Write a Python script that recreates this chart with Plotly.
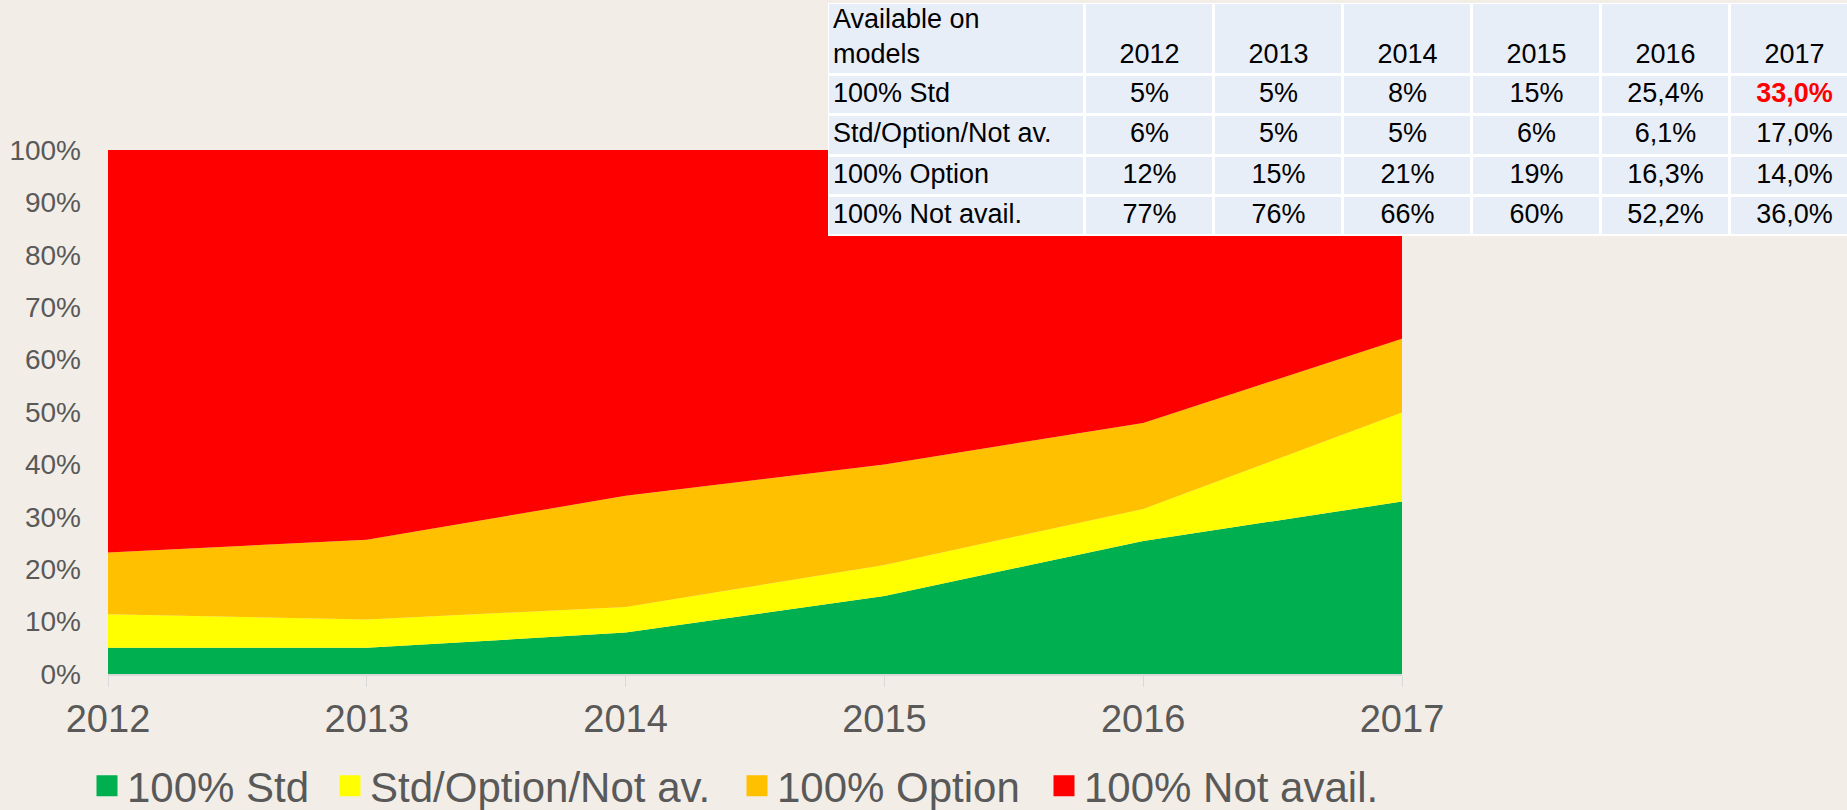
import plotly.graph_objects as go

W, H = 1847, 810

years = ["2012", "2013", "2014", "2015", "2016", "2017"]
x_years = [2012, 2013, 2014, 2015, 2016, 2017]

# Area values (percent of models)
std_vals = [5.0, 5.0, 7.9, 14.9, 25.4, 32.9]
mixed_vals = [6.4, 5.4, 4.9, 5.9, 6.1, 17.0]
option_vals = [11.8, 15.2, 21.2, 19.2, 16.4, 14.1]
notavail_vals = [76.8, 74.4, 66.0, 60.0, 52.1, 36.0]

series_names = ["100% Std", "Std/Option/Not av.", "100% Option", "100% Not avail."]
series_colors = ["#00B050", "#FFFF00", "#FFC000", "#FF0000"]

y_ticks = [0, 10, 20, 30, 40, 50, 60, 70, 80, 90, 100]
y_tick_labels = [f"{v}%" for v in y_ticks]

# Table texts
table_header_label = "Available on<br>models"
table_row_labels = ["100% Std", "Std/Option/Not av.", "100% Option", "100% Not avail."]
table_std = ["5%", "5%", "8%", "15%", "25,4%", "33,0%"]
table_mixed = ["6%", "5%", "5%", "6%", "6,1%", "17,0%"]
table_option = ["12%", "15%", "21%", "19%", "16,3%", "14,0%"]
table_notavail = ["77%", "76%", "66%", "60%", "52,2%", "36,0%"]

FONT = "Liberation Sans, Arial, sans-serif"
GRAY = "#595959"
BG = "#F2EEE7"
CELL = "#E8EEF8"

# table geometry (layout, in px-like units of the table's own axes)
col_widths = [257, 129, 129, 129, 129, 129, 129]
row_heights = [72, 40, 41, 40, 40]
TABLE_LEFT, TABLE_TOP, TABLE_BOTTOM = 828, 3, 236

col_edges = [0]
for w in col_widths:
    col_edges.append(col_edges[-1] + w)
row_edges = [0]
for h in row_heights:
    row_edges.append(row_edges[-1] + h)
col_centers = [(a + b) / 2 for a, b in zip(col_edges[:-1], col_edges[1:])]
row_centers = [(a + b) / 2 for a, b in zip(row_edges[:-1], row_edges[1:])]
LINE_GAP = 35  # spacing of the two header text lines

fig = go.Figure()

# ---- stacked areas ----
for name, vals, col in zip(series_names,
                           [std_vals, mixed_vals, option_vals, notavail_vals],
                           series_colors):
    fig.add_trace(go.Scatter(
        x=x_years, y=vals, name=name, mode="none",
        stackgroup="one", fillcolor=col, line=dict(width=0),
        showlegend=False, hoverinfo="skip"))

# legend entries with square markers, one legend per entry for exact spacing
legend_ids = ["legend", "legend2", "legend3", "legend4"]
legend_square_centers = [107, 350, 757, 1064]
for name, col, lid in zip(series_names, series_colors, legend_ids):
    fig.add_trace(go.Scatter(
        x=[None], y=[None], name=name, mode="markers",
        marker=dict(symbol="square", size=16, color=col,
                    line=dict(color=col, width=5)),
        showlegend=True, legend=lid))

# ---- table drawn on its own axes ----
n_rows, n_cols = len(row_heights), len(col_widths)
fig.add_trace(go.Heatmap(
    x=col_edges, y=row_edges, z=[[0] * n_cols for _ in range(n_rows)],
    colorscale=[[0, "white"], [1, "white"]], zmin=0, zmax=1,
    showscale=False, hoverinfo="skip", xaxis="x2", yaxis="y2"))
fig.add_trace(go.Heatmap(
    x=col_edges, y=row_edges, z=[[1] * n_cols for _ in range(n_rows)],
    colorscale=[[0, CELL], [1, CELL]], zmin=0, zmax=1, xgap=3, ygap=3,
    showscale=False, hoverinfo="skip", xaxis="x2", yaxis="y2"))

# header texts
fig.add_trace(go.Scatter(
    x=[5], y=[row_centers[0]], text=[table_header_label], mode="text",
    textposition="middle right",
    textfont=dict(family=FONT, size=27, color="black"),
    showlegend=False, hoverinfo="skip", xaxis="x2", yaxis="y2"))
fig.add_trace(go.Scatter(
    x=col_centers[1:], y=[row_centers[0] + LINE_GAP / 2] * len(years),
    text=years, mode="text", textposition="middle center",
    textfont=dict(family=FONT, size=27, color="black"),
    showlegend=False, hoverinfo="skip", xaxis="x2", yaxis="y2"))

# row labels
fig.add_trace(go.Scatter(
    x=[5] * len(table_row_labels), y=row_centers[1:], text=table_row_labels,
    mode="text", textposition="middle right",
    textfont=dict(family=FONT, size=27, color="black"),
    showlegend=False, hoverinfo="skip", xaxis="x2", yaxis="y2"))

# values
rows = [table_std, table_mixed, table_option, table_notavail]
vx, vy, vt, vc = [], [], [], []
for ri, r in enumerate(rows):
    for ci, t in enumerate(r):
        vx.append(col_centers[ci + 1])
        vy.append(row_centers[ri + 1])
        highlight = (ri == 0 and ci == len(r) - 1)
        vt.append("<b>" + t + "</b>" if highlight else t)
        vc.append("#FF0000" if highlight else "black")
fig.add_trace(go.Scatter(
    x=vx, y=vy, text=vt, mode="text", textposition="middle center",
    textfont=dict(family=FONT, size=27, color=vc),
    showlegend=False, hoverinfo="skip", xaxis="x2", yaxis="y2"))

legend_common = dict(orientation="h", xanchor="left",
                     y=(H - 786) / H, yanchor="middle",
                     font=dict(family=FONT, size=42, color=GRAY),
                     bgcolor="rgba(0,0,0,0)", borderwidth=0)
layout_legends = {}
for lid, cx in zip(legend_ids, legend_square_centers):
    layout_legends[lid] = dict(legend_common, x=(cx - 20) / W)

fig.update_layout(
    width=W, height=H,
    paper_bgcolor=BG, plot_bgcolor=BG,
    margin=dict(l=0, r=0, t=0, b=0, autoexpand=False),
    font=dict(family=FONT, color=GRAY),
    showlegend=True,
    xaxis=dict(domain=[108 / W, 1402 / W], range=[2012, 2017],
               tickvals=x_years, ticktext=years, automargin=False,
               showgrid=False, zeroline=False,
               showline=True, linecolor="#D9D9D9", linewidth=2,
               ticks="outside", ticklen=11, tickcolor="#D9D9D9", tickwidth=1,
               tickfont=dict(family=FONT, size=38, color=GRAY),
               ticklabelstandoff=-1),
    yaxis=dict(domain=[(H - 674) / H, (H - 150) / H], range=[0, 100],
               tickvals=y_ticks, ticktext=y_tick_labels, automargin=False,
               showgrid=False, zeroline=False, showline=False,
               tickfont=dict(family=FONT, size=28, color=GRAY),
               ticklabelstandoff=26),
    xaxis2=dict(domain=[TABLE_LEFT / W, 1.0], range=[0, W - TABLE_LEFT],
                visible=False, anchor="y2", automargin=False, fixedrange=True),
    yaxis2=dict(domain=[(H - TABLE_BOTTOM) / H, (H - TABLE_TOP) / H],
                range=[TABLE_BOTTOM - TABLE_TOP, 0],
                visible=False, anchor="x2", automargin=False, fixedrange=True),
    **layout_legends,
)

fig.write_html("out.html",
               config={"displayModeBar": False},
               post_script="document.body.style.margin='0';document.body.style.overflow='hidden';")
